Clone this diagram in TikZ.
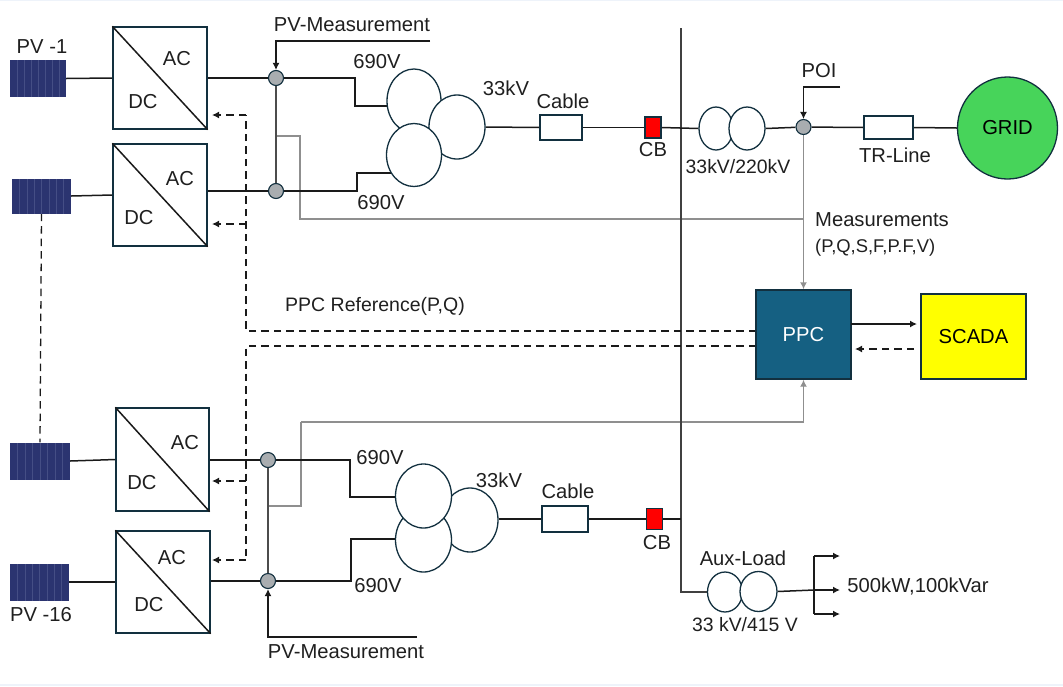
\documentclass[tikz,border=0pt]{standalone}
\usepackage{fontspec}
\setmainfont{Liberation Sans}
\usetikzlibrary{arrows.meta,shapes.geometric,backgrounds,calc}
\definecolor{edge}{HTML}{12303F}
\definecolor{wire}{HTML}{1A1A1A}
\definecolor{sig}{HTML}{8F8F8F}
\definecolor{ppcfill}{HTML}{156082}
\definecolor{gridfill}{HTML}{47D45A}
\definecolor{panelfill}{HTML}{2B3470}
\definecolor{panelline}{HTML}{454E85}
\definecolor{junc}{HTML}{A9ADB0}
\definecolor{strip}{HTML}{EEF3FA}
\definecolor{scadafill}{HTML}{FFFF00}
\tikzset{
  lbl/.style={inner sep=0pt,font=\fontsize{20.2}{22}\selectfont,text=black!88},
  conv/.style 2 args={draw=edge,line width=1.3pt,fill=white,minimum width=#1,minimum height=#2,inner sep=0pt},
  pvpanel/.style 2 args={fill=panelfill,minimum width=#1,minimum height=#2,inner sep=0pt,
    path picture={\foreach \k in {1,...,7}{\draw[panelline,line width=.5pt] ($(path picture bounding box.south west)!\k/8!(path picture bounding box.south east)$) -- ($(path picture bounding box.north west)!\k/8!(path picture bounding box.north east)$);}}},
  coil/.style 2 args={ellipse,draw=edge,line width=1.3pt,fill=white,minimum width=#1,minimum height=#2,inner sep=0pt},
  joint/.style={circle,draw=edge,line width=1.1pt,fill=junc,minimum size=15pt,inner sep=0pt},
  wirel/.style={draw=wire,line width=1.5pt},
  buswire/.style={draw=black!75,line width=1.6pt},
  sigl/.style={draw=sig,line width=1.6pt},
  cmd/.style={draw=wire,line width=1.4pt,dash pattern=on 7.5pt off 5pt},
  tip/.style={-{Latex[length=7pt,width=7pt]}},
}
\begin{document}
\begin{tikzpicture}[x=1pt,y=-1pt]
\useasboundingbox (0,0) rectangle (1063,686);
\fill[strip] (0,0) rectangle (1063,1.2);
\fill[strip] (0,683.5) rectangle (1063,686);

% PV panels
\node[pvpanel={56pt}{37pt}] (pv1) at (38,78.5) {};
\node[pvpanel={59pt}{35pt}] (pv2) at (41.5,196) {};
\node[pvpanel={60pt}{37pt}] (pv3) at (40,461) {};
\node[pvpanel={59pt}{37pt}] (pv4) at (39.5,582) {};
% Converters
\node[conv={94pt}{102pt}] (b1) at (160,78) {};
\node[conv={94pt}{102pt}] (b2) at (160,195) {};
\node[conv={93pt}{103pt}] (b3) at (162.5,459.5) {};
\node[conv={94pt}{102pt}] (b4) at (163,582) {};
% Junctions
\node[joint] (n1) at (276,78) {};
\node[joint] (n2) at (276,191) {};
\node[joint] (n3) at (268,460) {};
\node[joint] (n4) at (268,581) {};
\node[joint] (poi) at (803.5,127) {};
% Transformers
\node[coil={54pt}{64pt}] (t1a) at (414,101) {};
\node[coil={56pt}{64pt}] (t1b) at (457,127) {};
\node[coil={55pt}{63pt}] (t1c) at (414,155) {};
\node[coil={56pt}{64pt}] (t3b) at (470,520) {};
\node[coil={56pt}{64pt}] (t3c) at (423.5,540) {};
\node[coil={56pt}{64pt}] (t3a) at (423.5,496) {};
\node[coil={34pt}{43pt}] (t2a) at (716,128.5) {};
\node[coil={36pt}{43pt}] (t2b) at (747,128.5) {};
\node[coil={35pt}{40pt}] (t4a) at (725,592) {};
\node[coil={37pt}{40pt}] (t4b) at (758.5,591.5) {};
% Cables, breakers
\node[conv={42pt}{25pt}] (c1) at (561,127.5) {};
\node[conv={46pt}{26pt}] (c2) at (565,519) {};
\node[conv={16pt}{21pt},fill=red] (cb1) at (653,127.5) {};
\node[conv={16pt}{21pt},fill=red] (cb2) at (654.5,519) {};
\node[conv={49pt}{23pt}] (tr) at (888.5,127.5) {};
% Main blocks
\node[ellipse,draw=edge,line width=1.3pt,fill=gridfill,minimum width=100pt,minimum height=102pt,inner sep=0pt,font=\fontsize{20.2}{22}\selectfont] (grid) at (1007.5,128) {GRID};
\node[draw=edge,line width=1.4pt,fill=ppcfill,minimum width=95pt,minimum height=89pt,inner sep=0pt,text=white,font=\fontsize{20.2}{22}\selectfont] (ppc) at (803.5,334.5) {PPC};
\node[draw=edge,line width=1.3pt,fill=scadafill,minimum width=105pt,minimum height=85pt,inner sep=0pt,font=\fontsize{20.2}{22}\selectfont] (scada) at (973.5,336.5) {SCADA};

% free ends
\coordinate (m1) at (430,41);
\coordinate (m2) at (417,637);
\coordinate (poiin) at (840,87);
\coordinate (bustop) at (681,28);
\coordinate (busb) at (681,592);
\coordinate (busm) at (681,519);
\coordinate (g1) at (276,136);
\coordinate (g2) at (300,219);
\coordinate (g3) at (268,506);
\coordinate (g4) at (301,422);
\coordinate (v1) at (246,115);
\coordinate (v2) at (246,224);
\coordinate (v3) at (246,331);
\coordinate (v4) at (246,346);
\coordinate (v5) at (246,481);
\coordinate (v6) at (246,560);
\coordinate (h1) at (212,115);
\coordinate (h2) at (212,224);
\coordinate (h3) at (212,481);
\coordinate (h4) at (212,560);
\coordinate (s1) at (851,324);
\coordinate (s2) at (917,324);
\coordinate (s3) at (914,349);
\coordinate (s4) at (855,349);
\coordinate (p3) at (756,331);
\coordinate (p4) at (756,346);
\coordinate (lo) at (814,590);
\coordinate (la) at (840,556);
\coordinate (lb) at (840,590);
\coordinate (lc) at (840,614);

\begin{scope}[on background layer]
  % measurement signals
  \draw[sigl] (g1) -| (g2) -- (poi.south |- g2);
  \draw[sigl,tip] (poi.south) -- (ppc.north);
  \draw[sigl] (g3) -| (g4);
  \draw[sigl,tip] (g4) -| (ppc.south);
  % bus
  \draw[buswire] (bustop) -- (busb) -- (t4a.west);
  % power wires
  \draw[wirel] (pv1.east) -- (b1.west);
  \draw[wirel] (pv2.east) -- (b2.west);
  \draw[wirel] (pv3.east) -- (b3.west);
  \draw[wirel] (pv4.east) -- (b4.west);
  \draw[wirel] (b1.east) -- (n1) -- (355,78) |- (t1a.190);
  \draw[wirel] (b2.east |- n2) -- (n2) -- (357,191) |- (t1c.218);
  \draw[wirel] (b3.east |- n3) -- (n3) -- (350,460) |- (t3a.west |- 0,497);
  \draw[wirel] (b4.east |- n4) -- (n4) -- (351,581) |- (t3c.west |- 0,539);
  \draw[black!70,line width=1.5pt] (n1) -- (n2);
  \draw[black!70,line width=1.5pt] (n3) -- (n4);
  \draw[wirel] (t1b.east) -- (c1.west);
  \draw[wirel] (c1.east) -- (cb1.west);
  \draw[wirel] (cb1.east) -- (t2a.west);
  \draw[wirel] (t2b.east) -- (poi);
  \draw[wirel] (poi) -- (tr.west);
  \draw[wirel] (tr.east) -- (grid.west);
  \draw[wirel] (t3b.east |- c2) -- (c2.west);
  \draw[wirel] (c2.east) -- (cb2.west);
  \draw[wirel] (cb2.east) -- (busm);
  \draw[wirel] (t4b.east) -- (lo);
  % PV cascade
  \draw[cmd,line width=1.3pt] (pv2.south) -- (pv3.north);
  % PPC commands
  \draw[cmd] (p3) -- (v3) -- (v1);
  \draw[cmd] (p4) -- (v4) -- (v6);
\end{scope}
% arrows
\draw[wirel,tip] (lo) -- (lb);
\draw[wirel,tip] (lo |- la) -- (la);
\draw[wirel,tip] (lo |- lc) -- (lc);
\draw[wirel] (lo |- la) -- (lo |- lc);
\draw[cmd,tip] (v1) -- (h1);
\draw[cmd,tip] (v2) -- (h2);
\draw[cmd,tip] (v5) -- (h3);
\draw[cmd,tip] (v6) -- (h4);
\draw[wirel,tip] (m1) -| (n1.north);
\draw[wirel,tip] (m2) -| (n4.south);
\draw[wirel,line width=1.3pt,tip] (poiin) -| (poi.north);
\draw[wirel,tip] (s1) -- (s2);
\draw[cmd,tip] (s3) -- (s4);
% converter diagonals
\draw[wirel] (b1.north west) -- (b1.south east);
\draw[wirel] (b2.north west) -- (b2.south east);
\draw[wirel] (b3.north west) -- (b3.south east);
\draw[wirel] (b4.north west) -- (b4.south east);

% labels
\node[lbl] (l01) at (42,47) {PV -1};
\node[lbl] (l02) at (41,615) {PV -16};
\node[lbl] (l03) at (177,59) {AC};
\node[lbl] (l04) at (143,102) {DC};
\node[lbl] (l05) at (180,179) {AC};
\node[lbl] (l06) at (139,218) {DC};
\node[lbl] (l07) at (185,443) {AC};
\node[lbl] (l08) at (142,483) {DC};
\node[lbl] (l09) at (172,558) {AC};
\node[lbl] (l10) at (149,605) {DC};
\node[lbl] (l11) at (352,25) {PV-Measurement};
\node[lbl] (l12) at (346,652) {PV-Measurement};
\node[lbl] (l13) at (377,62) {690V};
\node[lbl] (l14) at (381,203) {690V};
\node[lbl] (l15) at (380,458) {690V};
\node[lbl] (l16) at (378,586) {690V};
\node[lbl] (l17) at (506,88) {33kV};
\node[lbl] (l18) at (499,480) {33kV};
\node[lbl] (l19) at (563,101) {Cable};
\node[lbl] (l20) at (568,491) {Cable};
\node[lbl] (l21) at (653,150) {CB};
\node[lbl] (l22) at (657,543) {CB};
\node[lbl,font=\fontsize{19.4}{22}\selectfont] (l23) at (738,167) {33kV/220kV};
\node[lbl] (l24) at (819,71) {POI};
\node[lbl] (l25) at (895,155) {TR-Line};
\node[lbl,anchor=west] (l26) at (815,220) {Measurements};
\node[lbl,anchor=west,font=\fontsize{18.4}{22}\selectfont] (l27) at (815,248) {(P,Q,S,F,P.F,V)};
\node[lbl,font=\fontsize{19.5}{22}\selectfont] (l28) at (375,306) {PPC Reference(P,Q)};
\node[lbl] (l29) at (743,558) {Aux-Load};
\node[lbl,font=\fontsize{19.4}{22}\selectfont] (l30) at (745,625) {33 kV/415 V};
\node[lbl] (l31) at (918,586) {500kW,100kVar};
\end{tikzpicture}
\end{document}
